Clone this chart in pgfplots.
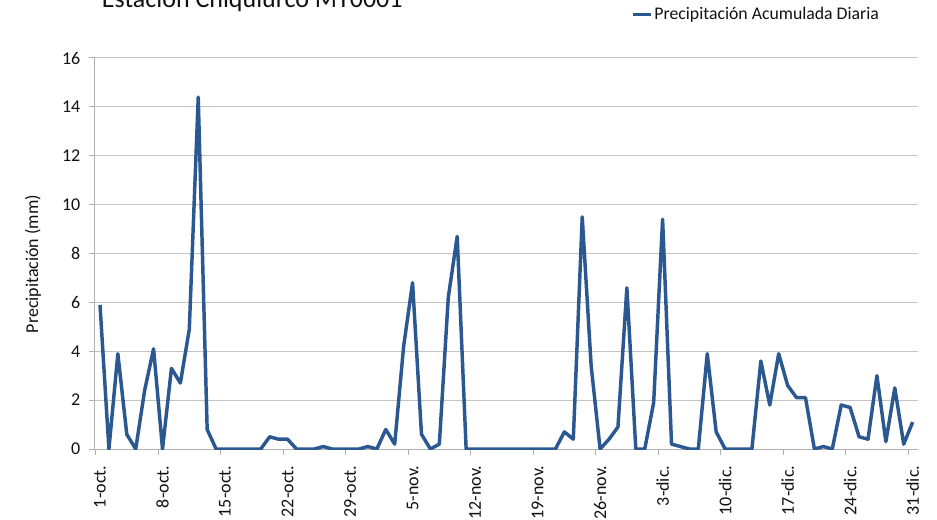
\documentclass[border=0pt]{standalone}
\usepackage{fontspec}
\setmainfont{Carlito}
\usepackage{pgfplots}
\pgfplotsset{compat=1.18}
\definecolor{serieA}{HTML}{2B5891}
\definecolor{gridG}{HTML}{C4C4C4}
\definecolor{axisG}{HTML}{B0B0B0}
\definecolor{inkT}{HTML}{111111}

% precipitacion diaria, dia 0 = 1-oct
\pgfplotstableread{
d p
0 5.9
1 0
2 3.9
3 0.6
4 0
5 2.4
6 4.1
7 0
8 3.3
9 2.7
10 4.9
11 14.4
12 0.8
13 0
14 0
15 0
16 0
17 0
18 0
19 0.5
20 0.4
21 0.4
22 0
23 0
24 0
25 0.1
26 0
27 0
28 0
29 0
30 0.1
31 0
32 0.8
33 0.2
34 4.2
35 6.8
36 0.6
37 0
38 0.2
39 6.2
40 8.7
41 0
42 0
43 0
44 0
45 0
46 0
47 0
48 0
49 0
50 0
51 0
52 0.7
53 0.4
54 9.5
55 3.4
56 0
57 0.4
58 0.9
59 6.6
60 0
61 0
62 1.9
63 9.4
64 0.2
65 0.1
66 0
67 0
68 3.9
69 0.7
70 0
71 0
72 0
73 0
74 3.6
75 1.8
76 3.9
77 2.6
78 2.1
79 2.1
80 0
81 0.1
82 0
83 1.8
84 1.7
85 0.5
86 0.4
87 3.0
88 0.3
89 2.5
90 0.2
91 1.1
}\precip

\begin{document}
\begin{tikzpicture}
\begin{axis}[
    at={(0pt,0pt)}, anchor=south west,
    scale only axis, width=617.25pt, height=293.25pt,
    xmin=-0.56, xmax=91.6, ymin=0, ymax=16,
    axis x line*=bottom, axis y line*=left,
    axis line style={axisG, line width=0.75pt, -},
    tick style={axisG, line width=0.75pt},
    tick align=outside, major tick length=4.5pt,
    ytick={0,2,...,16},
    ymajorgrids, grid style={gridG, line width=0.75pt},
    xtick={-0.5,6.5,...,90.5}, xticklabels={},
    extra x ticks={0,7,...,91},
    extra x tick labels={1-oct.,8-oct.,15-oct.,22-oct.,29-oct.,5-nov.,12-nov.,19-nov.,26-nov.,3-dic.,10-dic.,17-dic.,24-dic.,31-dic.},
    extra x tick style={major tick length=0pt,
        xticklabel style={yshift=-9pt, rotate=90, anchor=east}},
    ticklabel style={font=\fontsize{13.5}{16}\selectfont, color=inkT},
    yticklabel style={xshift=-3pt},
    /pgf/number format/assume math mode=true,
    ylabel={Precipitación (mm)},
    ylabel style={at={(axis description cs:-0.0753,0.473)}, anchor=center,
        font=\fontsize{13.5}{16}\selectfont, color=inkT},
    legend style={at={(axis description cs:0.652,1.1125)}, anchor=west,
        draw=none, fill=none, inner sep=0pt,
        nodes={inner sep=1.2pt, text=inkT},
        font=\fontsize{13.3}{16}\selectfont},
    legend image code/.code={\draw[#1, line width=2.25pt] (0pt,0pt) -- (13.5pt,0pt);},
  ]
  \addplot[serieA, line width=2.6pt, line join=round] table[x=d, y=p] {\precip};
  \addlegendentry{Precipitación Acumulada Diaria}
\end{axis}
\node[anchor=base west, font=\fontsize{19.5}{23}\selectfont, text=inkT, inner sep=0pt]
  at (5pt,330.75pt) {Estación Chiquiurco MT0001};
\pgfresetboundingbox
\useasboundingbox (-71.25pt,-53.25pt) rectangle (631.5pt,336.75pt);
\end{tikzpicture}
\end{document}
